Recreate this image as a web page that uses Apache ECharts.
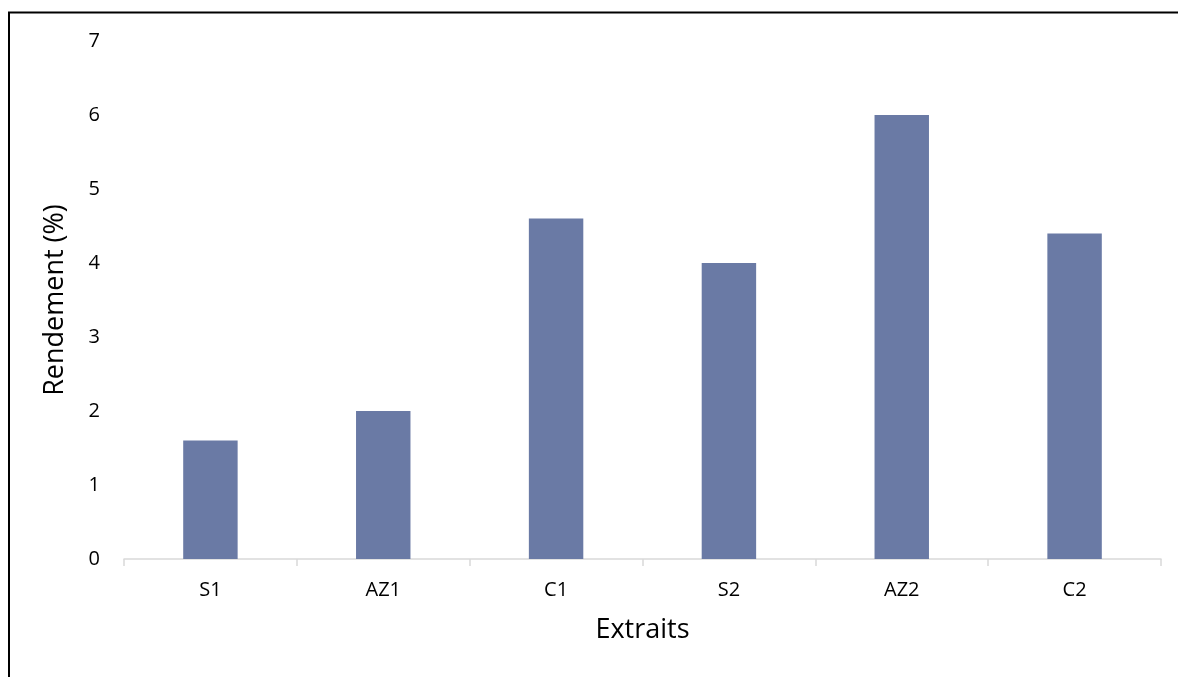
<!DOCTYPE html>
<html>
<head>
<meta charset="utf-8">
<script src="https://cdn.jsdelivr.net/npm/echarts@6/dist/echarts.min.js"></script>
<style>
  html, body { margin: 0; padding: 0; background: #fff; }
  #chart { width: 1178px; height: 677px; }
</style>
</head>
<body>
<div id="chart"></div>
<script>
// Extraction yield per extract
const categories = ['S1', 'AZ1', 'C1', 'S2', 'AZ2', 'C2'];
const rendement = [1.6, 2.0, 4.6, 4.0, 6.0, 4.4];
const yTicks = { min: 0, max: 7, interval: 1 };

const FONT = '"Open Sans", "Noto Sans", sans-serif';

const chart = echarts.init(document.getElementById('chart'), null, { renderer: 'canvas' });

chart.setOption({
  backgroundColor: '#ffffff',
  animation: false,
  textStyle: { fontFamily: FONT },
  graphic: [{
    type: 'rect',
    shape: { x: 9, y: 12.5, width: 1300, height: 800 },
    style: { fill: 'none', stroke: '#000', lineWidth: 2 },
    silent: true
  }],
  grid: { left: 124, right: 17, top: 41, bottom: 118 },
  xAxis: {
    type: 'category',
    data: categories,
    name: 'Extraits',
    nameLocation: 'middle',
    nameGap: 58,
    nameTextStyle: { fontSize: 27, color: '#000', fontFamily: FONT },
    axisLine: { lineStyle: { color: '#d9d9d9', width: 1.5 } },
    axisTick: { show: true, length: 7, lineStyle: { color: '#d9d9d9', width: 1.5 } },
    axisLabel: { fontSize: 20, color: '#000', margin: 21, fontFamily: FONT }
  },
  yAxis: {
    type: 'value',
    min: yTicks.min,
    max: yTicks.max,
    interval: yTicks.interval,
    name: 'Rendement (%)',
    nameLocation: 'middle',
    nameGap: 55,
    nameTextStyle: { fontSize: 27, color: '#000', fontFamily: FONT },
    axisLine: { show: false },
    axisTick: { show: false },
    splitLine: { show: false },
    axisLabel: { fontSize: 20, color: '#000', margin: 24, fontFamily: FONT }
  },
  series: [{
    type: 'bar',
    data: rendement,
    barWidth: '31.5%',
    itemStyle: { color: '#6a7aa5' }
  }]
});
</script>
</body>
</html>
